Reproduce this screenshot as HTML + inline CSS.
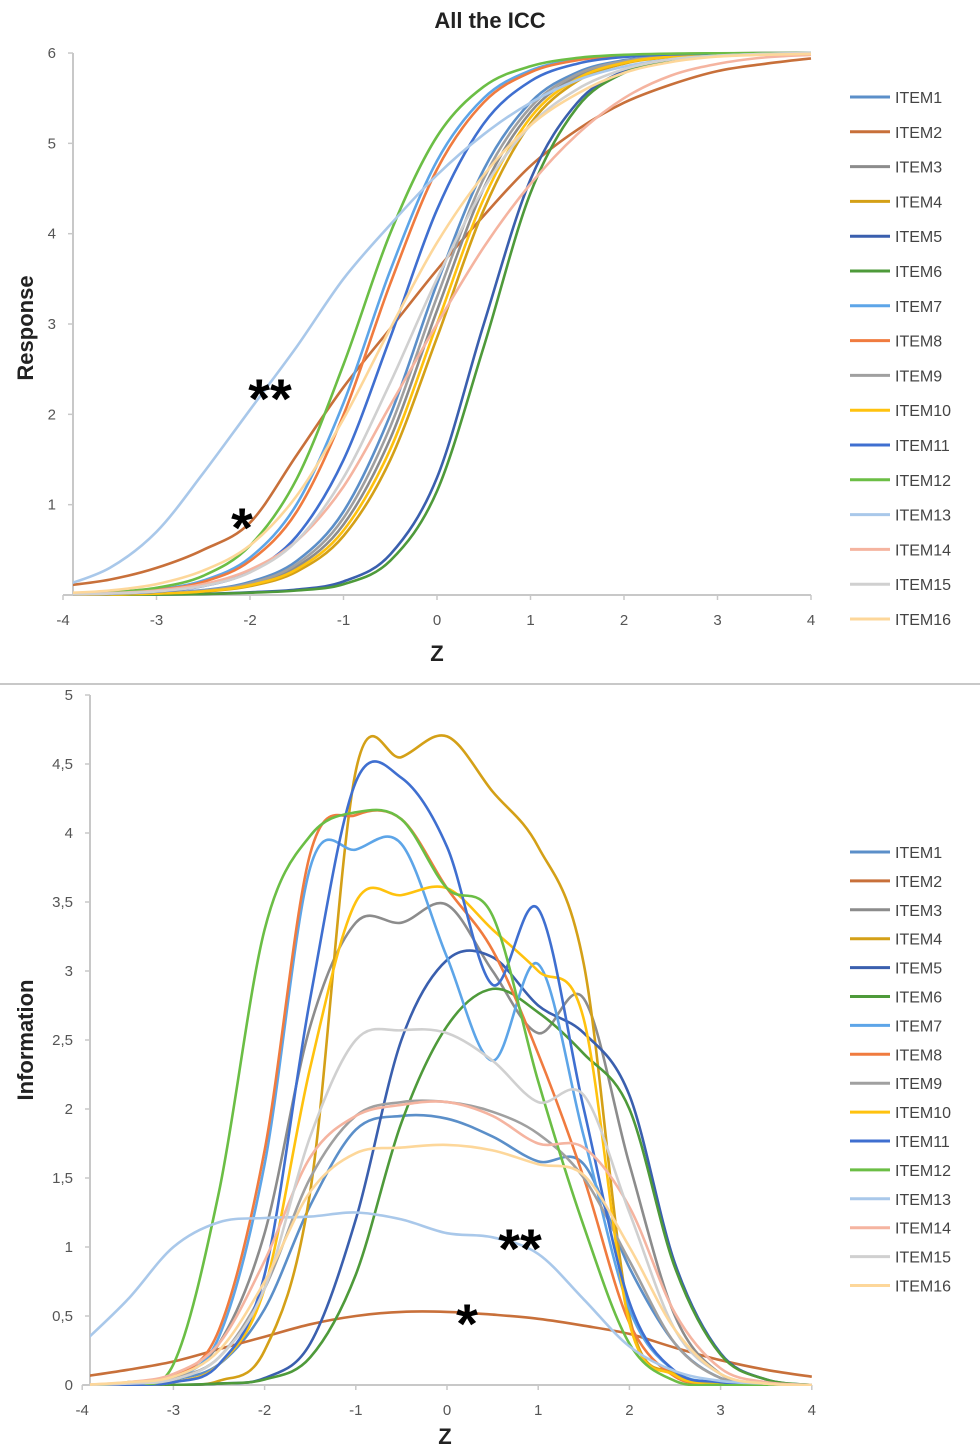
<!DOCTYPE html>
<html><head><meta charset="utf-8">
<style>
html,body{margin:0;padding:0;background:#fff;}
body{width:980px;height:1451px;overflow:hidden;position:relative;font-family:"Liberation Sans",sans-serif;}
svg{position:absolute;left:0;top:0;}
</style></head>
<body>
<svg id="chart" width="980" height="1451" viewBox="0 0 980 1451">
  <defs>
    <clipPath id="clipTop"><rect x="73" y="40" width="745" height="556"/></clipPath>
    <clipPath id="clipBot"><rect x="90" y="680" width="728" height="706"/></clipPath>
  </defs>
  <text x="490" y="28" text-anchor="middle" font-size="22" font-weight="bold" fill="#222">All the ICC</text>
  <line x1="0" y1="684" x2="980" y2="684" stroke="#c8c8c8" stroke-width="2"/>
  <text transform="translate(33,328) rotate(-90)" text-anchor="middle" font-size="22" font-weight="bold" fill="#222">Response</text>
  <text x="437" y="661" text-anchor="middle" font-size="22" font-weight="bold" fill="#222">Z</text>
  <text transform="translate(33,1040) rotate(-90)" text-anchor="middle" font-size="22" font-weight="bold" fill="#222">Information</text>
  <text x="445" y="1444" text-anchor="middle" font-size="22" font-weight="bold" fill="#222">Z</text>
  <g id="gTop"></g>
  <g id="gBot"></g>
  <text x="270" y="418" text-anchor="middle" font-size="56" font-weight="bold" fill="#000">**</text>
  <text x="242" y="547" text-anchor="middle" font-size="56" font-weight="bold" fill="#000">*</text>
  <text x="520" y="1268" text-anchor="middle" font-size="56" font-weight="bold" fill="#000">**</text>
  <text x="467" y="1343" text-anchor="middle" font-size="56" font-weight="bold" fill="#000">*</text>
</svg>
<script>
const zGrid=[-4,-3.5,-3,-2.5,-2,-1.5,-1,-0.5,0,0.5,1,1.5,2,2.5,3,3.5,4];
const itemNames=["ITEM1","ITEM2","ITEM3","ITEM4","ITEM5","ITEM6","ITEM7","ITEM8","ITEM9","ITEM10","ITEM11","ITEM12","ITEM13","ITEM14","ITEM15","ITEM16"];
const itemColors=["#5B8FC9","#C8703A","#8C8C8C","#D4A017","#3A5FAE","#4E9A3A","#5DA5E8","#F07B3F","#A0A0A0","#FFC20E","#3F6FD0","#6BBE45","#A9C8EA","#F5B4A0","#D0D0D0","#FDD79A"];
const xTicks=[-4,-3,-2,-1,0,1,2,3,4];
const topYTicks=[1,2,3,4,5,6];
const topYLabels=["1","2","3","4","5","6"];
const botYTicks=[0,0.5,1,1.5,2,2.5,3,3.5,4,4.5,5];
const botYLabels=["0","0,5","1","1,5","2","2,5","3","3,5","4","4,5","5"];

// ICC (response) values per item at zGrid
const icc1=[0.003,0.007,0.02,0.054,0.145,0.377,0.924,1.994,3.447,4.712,5.453,5.787,5.92,5.97,5.989,5.996,5.999];
const icc2=[0.1,0.17,0.3,0.5,0.8,1.55,2.3,2.95,3.6,4.2,4.75,5.15,5.45,5.65,5.8,5.88,5.94];
const icc3=[0.002,0.006,0.016,0.044,0.119,0.311,0.78,1.731,3.15,4.503,5.344,5.741,5.902,5.964,5.987,5.995,5.998];
const icc4=[0.002,0.005,0.013,0.036,0.098,0.259,0.653,1.496,2.85,4.266,5.22,5.688,5.882,5.956,5.984,5.994,5.998];
const icc5=[0.001,0.002,0.005,0.012,0.03,0.06,0.15,0.45,1.3,3.0,4.6,5.45,5.8,5.92,5.97,5.99,5.995];
const icc6=[0.001,0.002,0.004,0.01,0.025,0.05,0.12,0.38,1.15,2.75,4.45,5.4,5.78,5.92,5.97,5.99,5.995];
const icc7=[0.008,0.022,0.06,0.161,0.414,1.006,2.126,3.593,4.806,5.501,5.807,5.927,5.973,5.99,5.996,5.999,6];
const icc8=[0.007,0.02,0.054,0.145,0.377,0.924,1.994,3.447,4.712,5.453,5.787,5.92,5.97,5.989,5.996,5.999,6];
const icc9=[0.002,0.007,0.018,0.049,0.131,0.342,0.852,1.863,3.299,4.612,5.4,5.765,5.911,5.967,5.988,5.996,5.998];
const icc10=[0.002,0.0055,0.015,0.04,0.108,0.284,0.715,1.613,3.0,4.387,5.285,5.716,5.892,5.96,5.985,5.995,5.998];
const icc11=[0.005,0.013,0.036,0.098,0.259,0.653,1.496,2.85,4.266,5.22,5.688,5.882,5.956,5.984,5.994,5.998,6];
const icc12=[0.011,0.03,0.08,0.213,0.547,1.288,2.552,4.006,5.076,5.628,5.853,5.946,5.98,5.993,5.997,5.999,6];
const icc13=[0.1,0.3,0.7,1.35,2.05,2.75,3.5,4.1,4.65,5.1,5.45,5.7,5.85,5.93,5.97,5.99,6.0];
const icc14=[0.01,0.02,0.05,0.12,0.28,0.6,1.2,2.1,3.0,3.85,4.55,5.1,5.5,5.75,5.88,5.95,5.98];
const icc15=[0.005,0.015,0.04,0.1,0.25,0.6,1.3,2.35,3.5,4.5,5.2,5.6,5.82,5.93,5.97,5.99,6];
const icc16=[0.02,0.05,0.12,0.27,0.55,1.1,1.95,2.95,3.9,4.65,5.2,5.55,5.78,5.9,5.96,5.98,5.99];

// Information values per item at zGrid
const info1=[0,0.01,0.04,0.15,0.55,1.3,1.85,1.95,1.93,1.8,1.62,1.6,0.85,0.3,0.05,0.01,0];
const info2=[0.06,0.11,0.17,0.26,0.35,0.44,0.5,0.53,0.53,0.51,0.48,0.43,0.37,0.27,0.18,0.11,0.06];
const info3=[0,0.01,0.05,0.3,1.1,2.6,3.35,3.35,3.48,3.0,2.55,2.8,1.6,0.5,0.08,0.01,0];
const info4=[0,0,0,0.03,0.25,1.4,4.45,4.55,4.7,4.3,3.9,3.05,0.5,0.08,0.01,0,0];
const info5=[0,0,0,0.01,0.05,0.3,1.2,2.5,3.08,3.1,2.75,2.55,2.1,0.88,0.23,0.04,0];
const info6=[0,0,0,0.01,0.04,0.2,0.8,1.9,2.6,2.87,2.7,2.4,2.0,0.85,0.22,0.04,0];
const info7=[0,0.01,0.05,0.35,1.6,3.75,3.88,3.92,3.1,2.35,3.05,1.8,0.55,0.1,0.02,0,0];
const info8=[0,0.01,0.06,0.4,1.7,3.85,4.13,4.1,3.6,3.15,2.4,1.5,0.45,0.06,0.01,0,0];
const info9=[0,0.01,0.05,0.2,0.7,1.5,1.95,2.05,2.05,1.98,1.82,1.5,0.9,0.3,0.05,0.01,0];
const info10=[0,0,0.02,0.15,0.7,2.3,3.5,3.55,3.6,3.3,3.0,2.65,0.45,0.07,0.01,0,0];
const info11=[0,0,0.02,0.15,0.8,2.8,4.37,4.4,3.9,2.9,3.45,2.0,0.6,0.1,0.02,0,0];
const info12=[0,0.02,0.15,1.4,3.3,3.98,4.15,4.1,3.6,3.4,2.2,1.15,0.3,0.03,0,0,0];
const info13=[0.3,0.62,1.0,1.18,1.21,1.22,1.25,1.2,1.1,1.07,0.95,0.62,0.28,0.1,0.03,0.01,0];
const info14=[0,0.02,0.08,0.3,0.9,1.65,1.95,2.03,2.05,1.95,1.75,1.72,1.29,0.52,0.12,0.02,0];
const info15=[0,0.01,0.04,0.2,0.7,1.8,2.5,2.57,2.55,2.35,2.05,2.1,1.25,0.4,0.08,0.01,0];
const info16=[0,0.02,0.06,0.25,0.75,1.4,1.68,1.72,1.74,1.7,1.6,1.52,1.0,0.4,0.08,0.01,0];

const iccSeries=[icc1,icc2,icc3,icc4,icc5,icc6,icc7,icc8,icc9,icc10,icc11,icc12,icc13,icc14,icc15,icc16];
const infoSeries=[info1,info2,info3,info4,info5,info6,info7,info8,info9,info10,info11,info12,info13,info14,info15,info16];

const NS="http://www.w3.org/2000/svg";
function mk(tag,attrs,parent){const e=document.createElementNS(NS,tag);for(const k in attrs)e.setAttribute(k,attrs[k]);parent.appendChild(e);return e;}

const topX=z=>437+z*93.5;
const topY=v=>595-v*90.33;
const botX=z=>447+z*91.2;
const botY=v=>1385-v*138;

function smoothPath(pts){
  let d="M"+pts[0][0].toFixed(1)+","+pts[0][1].toFixed(1);
  for(let i=0;i<pts.length-1;i++){
    const p0=pts[i-1]||pts[i],p1=pts[i],p2=pts[i+1],p3=pts[i+2]||p2;
    const c1=[p1[0]+(p2[0]-p0[0])/6,p1[1]+(p2[1]-p0[1])/6];
    const c2=[p2[0]-(p3[0]-p1[0])/6,p2[1]-(p3[1]-p1[1])/6];
    d+=" C"+c1[0].toFixed(1)+","+c1[1].toFixed(1)+" "+c2[0].toFixed(1)+","+c2[1].toFixed(1)+" "+p2[0].toFixed(1)+","+p2[1].toFixed(1);
  }
  return d;
}

function drawChart(g,opt){
  // axes
  const ya=mk("line",{x1:opt.axX,y1:opt.yFn(opt.yMax),x2:opt.axX,y2:opt.yFn(0),stroke:"#c8c8c8","stroke-width":2},g);
  
  
  const xa=mk("line",{x1:opt.xFn(-4),y1:opt.yFn(0),x2:opt.xFn(4),y2:opt.yFn(0),stroke:"#c8c8c8","stroke-width":2},g);
  
  
  xTicks.forEach(t=>{
    const x=opt.xFn(t);
    const tk=mk("line",{x1:x,y1:opt.yFn(0),x2:x,y2:opt.yFn(0)+5,stroke:"#c8c8c8","stroke-width":1.5},g);
    
    
    const tl=mk("text",{x:x,y:opt.yFn(0)+30,"text-anchor":"middle","font-size":15,fill:"#555"},g);
    tl.textContent=String(t);
    
    
  });
  opt.yTicks.forEach((t,i)=>{
    const y=opt.yFn(t);
    const tk=mk("line",{x1:opt.axX-5,y1:y,x2:opt.axX,y2:y,stroke:"#c8c8c8","stroke-width":1.5},g);
    
    
    const tl=mk("text",{x:opt.labelX,y:y+5,"text-anchor":"end","font-size":15,fill:"#555"},g);
    tl.textContent=opt.yLabels[i];
    
    
  });
  const lines=mk("g",{"clip-path":opt.clip},g);
  
  
  opt.series.forEach((vals,i)=>{
    const pts=zGrid.map((z,j)=>[opt.xFn(z),opt.yFn(vals[j])]);
    const p=mk("path",{d:smoothPath(pts),fill:"none",stroke:itemColors[i],"stroke-width":2.6,"stroke-linejoin":"round"},lines);
    
    
  });
  itemNames.forEach((n,i)=>{
    const y=opt.legY+i*opt.legStep;
    const eg=mk("g",{},g);
    
    
    mk("line",{x1:850,y1:y,x2:890,y2:y,stroke:itemColors[i],"stroke-width":3},eg);
    const t=mk("text",{x:895,y:y+6,"font-size":16,fill:"#444"},eg);
    t.textContent=n;
  });
}

drawChart(document.getElementById("gTop"),{prefix:"icc",xFn:topX,yFn:topY,yMax:6,axX:73,labelX:56,yTicks:topYTicks,yLabels:topYLabels,series:iccSeries,clip:"url(#clipTop)",legY:97,legStep:34.8});
drawChart(document.getElementById("gBot"),{prefix:"info",xFn:botX,yFn:botY,yMax:5,axX:90,labelX:73,yTicks:botYTicks,yLabels:botYLabels,series:infoSeries,clip:"url(#clipBot)",legY:852,legStep:28.9});
</script>
</body></html>
